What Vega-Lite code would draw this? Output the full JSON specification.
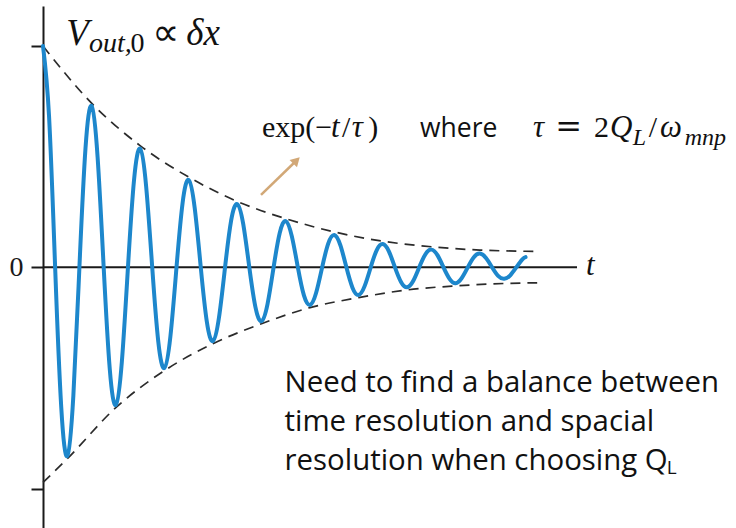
{
  "$schema": "https://vega.github.io/schema/vega-lite/v6.json",
  "width": 534,
  "height": 522,
  "autosize": "none",
  "padding": {"left": 43, "top": 6, "right": 159, "bottom": 0},
  "background": "white",
  "config": {"view": {"stroke": null}},
  "datasets": {
    "wave": [
      {"t": 0, "v": 1.0}, {"t": 0.125, "v": 0.681}, {"t": 0.25, "v": 0}, {"t": 0.375, "v": -0.629},
      {"t": 0.5, "v": -0.853}, {"t": 0.625, "v": -0.581}, {"t": 0.75, "v": 0}, {"t": 0.875, "v": 0.537},
      {"t": 1, "v": 0.729}, {"t": 1.125, "v": 0.497}, {"t": 1.25, "v": 0}, {"t": 1.375, "v": -0.459},
      {"t": 1.5, "v": -0.622}, {"t": 1.625, "v": -0.425}, {"t": 1.75, "v": 0}, {"t": 1.875, "v": 0.394},
      {"t": 2, "v": 0.536}, {"t": 2.125, "v": 0.365}, {"t": 2.25, "v": 0}, {"t": 2.375, "v": -0.336},
      {"t": 2.5, "v": -0.455}, {"t": 2.625, "v": -0.311}, {"t": 2.75, "v": 0}, {"t": 2.875, "v": 0.29},
      {"t": 3, "v": 0.395}, {"t": 3.125, "v": 0.268}, {"t": 3.25, "v": 0}, {"t": 3.375, "v": -0.246},
      {"t": 3.5, "v": -0.333}, {"t": 3.625, "v": -0.227}, {"t": 3.75, "v": 0}, {"t": 3.875, "v": 0.211},
      {"t": 4, "v": 0.286}, {"t": 4.125, "v": 0.195}, {"t": 4.25, "v": 0}, {"t": 4.375, "v": -0.179},
      {"t": 4.5, "v": -0.243}, {"t": 4.625, "v": -0.166}, {"t": 4.75, "v": 0}, {"t": 4.875, "v": 0.154},
      {"t": 5, "v": 0.209}, {"t": 5.125, "v": 0.141}, {"t": 5.25, "v": 0}, {"t": 5.375, "v": -0.127},
      {"t": 5.5, "v": -0.17}, {"t": 5.625, "v": -0.116}, {"t": 5.75, "v": 0}, {"t": 5.875, "v": 0.107},
      {"t": 6, "v": 0.146}, {"t": 6.125, "v": 0.1}, {"t": 6.25, "v": 0}, {"t": 6.375, "v": -0.092},
      {"t": 6.5, "v": -0.125}, {"t": 6.625, "v": -0.085}, {"t": 6.75, "v": 0}, {"t": 6.875, "v": 0.078},
      {"t": 7, "v": 0.105}, {"t": 7.125, "v": 0.072}, {"t": 7.25, "v": 0}, {"t": 7.375, "v": -0.066},
      {"t": 7.5, "v": -0.09}, {"t": 7.625, "v": -0.062}, {"t": 7.75, "v": 0}, {"t": 7.875, "v": 0.058},
      {"t": 8, "v": 0.08}, {"t": 8.125, "v": 0.055}, {"t": 8.25, "v": 0}, {"t": 8.375, "v": -0.052},
      {"t": 8.5, "v": -0.072}, {"t": 8.625, "v": -0.049}, {"t": 8.75, "v": 0}, {"t": 8.875, "v": 0.046},
      {"t": 9, "v": 0.062}, {"t": 9.125, "v": 0.042}, {"t": 9.25, "v": 0}, {"t": 9.375, "v": -0.039},
      {"t": 9.5, "v": -0.052}, {"t": 9.625, "v": -0.036}, {"t": 9.75, "v": 0}, {"t": 9.875, "v": 0.036},
      {"t": 9.94, "v": 0.046}
    ],
    "envelope": [
      {"side": "upper", "t": 0, "v": 1.0}, {"side": "upper", "t": 1, "v": 0.742},
      {"side": "upper", "t": 2, "v": 0.55}, {"side": "upper", "t": 3, "v": 0.408},
      {"side": "upper", "t": 4, "v": 0.298}, {"side": "upper", "t": 5, "v": 0.22},
      {"side": "upper", "t": 6, "v": 0.16}, {"side": "upper", "t": 7, "v": 0.118},
      {"side": "upper", "t": 8, "v": 0.093}, {"side": "upper", "t": 9, "v": 0.078},
      {"side": "upper", "t": 10.18, "v": 0.072},
      {"side": "lower", "t": 0, "v": -0.972}, {"side": "lower", "t": 0.5, "v": -0.865},
      {"side": "lower", "t": 1.5, "v": -0.634}, {"side": "lower", "t": 2.5, "v": -0.467},
      {"side": "lower", "t": 3.5, "v": -0.345}, {"side": "lower", "t": 4.5, "v": -0.255},
      {"side": "lower", "t": 5.5, "v": -0.182}, {"side": "lower", "t": 6.5, "v": -0.137},
      {"side": "lower", "t": 7.5, "v": -0.102}, {"side": "lower", "t": 8.5, "v": -0.084},
      {"side": "lower", "t": 9.5, "v": -0.073}, {"side": "lower", "t": 10.18, "v": -0.07}
    ],
    "timeAxis": [{"t": 0, "t2": 11, "v": 0}],
    "arrow": [{"t": 4.491, "v": 0.327, "t2": 5.232, "v2": 0.485}],
    "arrowHead": [{"t": 5.222, "v": 0.483}],
    "titleItalic": [
      {"t": 0.48, "v": 1.0045, "label": "V"},
      {"t": 2.95, "v": 1.0045, "label": "δx"}
    ],
    "titleSymbol": [{"t": 2.25, "v": 1.0045, "label": "∝"}],
    "titleSubItalic": [{"t": 0.948, "v": 0.973, "label": "out,"}],
    "titleSubUpright": [{"t": 1.80, "v": 0.973, "label": "0"}],
    "mathUpright": [
      {"t": 4.511, "v": 0.5888, "label": "exp(−"},
      {"t": 6.159, "v": 0.5888, "label": "/"},
      {"t": 6.70, "v": 0.5888, "label": ")"},
      {"t": 11.35, "v": 0.5888, "label": "2"},
      {"t": 12.48, "v": 0.5888, "label": "/"}
    ],
    "mathEquals": [{"t": 10.55, "v": 0.5888, "label": "="}],
    "mathItalic": [
      {"t": 5.933, "v": 0.5888, "label": "t"},
      {"t": 6.36, "v": 0.5888, "label": "τ"},
      {"t": 10.094, "v": 0.5888, "label": "τ"},
      {"t": 11.68, "v": 0.5888, "label": "Q"},
      {"t": 12.71, "v": 0.5888, "label": "ω"},
      {"t": 11.186, "v": -0.0348, "label": "t"}
    ],
    "mathSub": [
      {"t": 12.15, "v": 0.5526, "label": "L"},
      {"t": 13.22, "v": 0.5526, "label": "mnp"}
    ],
    "where": [{"t": 7.766, "v": 0.5888, "label": "where"}],
    "note": [{"t": 4.975, "v": -0.562, "label": "Need to find a balance between\ntime resolution and spacial\nresolution when choosing Q"}],
    "noteSub": [{"t": 12.85, "v": -0.934, "label": "L"}]
  },
  "encoding": {
    "x": {"field": "t", "type": "quantitative", "scale": {"domain": [0, 11], "nice": false, "zero": false}, "axis": null},
    "y": {
      "field": "v", "type": "quantitative",
      "scale": {"domain": [-1.178, 1.181], "nice": false, "zero": false},
      "axis": {
        "values": [-1, 0, 1], "title": null, "grid": false,
        "domain": true, "domainColor": "#1a1a1a", "domainWidth": 2,
        "ticks": true, "tickSize": 12, "tickWidth": 2, "tickColor": "#1a1a1a",
        "labelExpr": "datum.value === 0 ? '0' : ''",
        "labelFont": "Liberation Serif", "labelFontSize": 28, "labelColor": "#1a1a1a",
        "labelPadding": 8, "labelFlush": false, "labelOverlap": false
      }
    }
  },
  "layer": [
    {
      "data": {"name": "timeAxis"},
      "mark": {"type": "rule", "color": "#1a1a1a", "strokeWidth": 2},
      "encoding": {"x2": {"field": "t2"}}
    },
    {
      "data": {"name": "envelope"},
      "mark": {"type": "line", "interpolate": "monotone", "color": "#2b2b2b", "strokeWidth": 1.7, "strokeDash": [10, 7]},
      "encoding": {"detail": {"field": "side"}}
    },
    {
      "data": {"name": "wave"},
      "mark": {"type": "line", "interpolate": "natural", "color": "#1d87cc", "strokeWidth": 4, "strokeCap": "round", "strokeJoin": "round"},
      "encoding": {}
    },
    {
      "data": {"name": "arrow"},
      "mark": {"type": "rule", "color": "#d2a877", "strokeWidth": 2.5},
      "encoding": {"x2": {"field": "t2"}, "y2": {"field": "v2"}}
    },
    {
      "data": {"name": "arrowHead"},
      "mark": {"type": "point", "shape": "triangle-up", "angle": 45, "size": 110, "filled": true, "color": "#d2a877", "opacity": 1}
    },
    {
      "data": {"name": "titleItalic"},
      "mark": {"type": "text", "align": "left", "baseline": "alphabetic", "font": "Liberation Serif", "fontStyle": "italic", "fontSize": 37, "color": "#111"},
      "encoding": {"text": {"field": "label"}}
    },
    {
      "data": {"name": "titleSymbol"},
      "mark": {"type": "text", "align": "left", "baseline": "alphabetic", "font": "DejaVu Sans", "fontSize": 38, "color": "#111"},
      "encoding": {"text": {"field": "label"}}
    },
    {
      "data": {"name": "titleSubItalic"},
      "mark": {"type": "text", "align": "left", "baseline": "alphabetic", "font": "Liberation Serif", "fontStyle": "italic", "fontSize": 28, "color": "#111"},
      "encoding": {"text": {"field": "label"}}
    },
    {
      "data": {"name": "titleSubUpright"},
      "mark": {"type": "text", "align": "left", "baseline": "alphabetic", "font": "Liberation Serif", "fontSize": 28, "color": "#111"},
      "encoding": {"text": {"field": "label"}}
    },
    {
      "data": {"name": "mathUpright"},
      "mark": {"type": "text", "align": "left", "baseline": "alphabetic", "font": "Liberation Serif", "fontSize": 30, "color": "#111"},
      "encoding": {"text": {"field": "label"}}
    },
    {
      "data": {"name": "mathEquals"},
      "mark": {"type": "text", "align": "left", "baseline": "alphabetic", "font": "DejaVu Serif", "fontSize": 32, "color": "#111"},
      "encoding": {"text": {"field": "label"}}
    },
    {
      "data": {"name": "mathItalic"},
      "mark": {"type": "text", "align": "left", "baseline": "alphabetic", "font": "Liberation Serif", "fontStyle": "italic", "fontSize": 31, "color": "#111"},
      "encoding": {"text": {"field": "label"}}
    },
    {
      "data": {"name": "mathSub"},
      "mark": {"type": "text", "align": "left", "baseline": "alphabetic", "font": "Liberation Serif", "fontStyle": "italic", "fontSize": 24, "color": "#111"},
      "encoding": {"text": {"field": "label"}}
    },
    {
      "data": {"name": "where"},
      "mark": {"type": "text", "align": "left", "baseline": "alphabetic", "font": "Open Sans", "fontSize": 26.5, "color": "#111"},
      "encoding": {"text": {"field": "label"}}
    },
    {
      "data": {"name": "note"},
      "mark": {"type": "text", "align": "left", "baseline": "alphabetic", "font": "Open Sans", "fontSize": 29.4, "lineHeight": 39, "lineBreak": "\n", "color": "#111"},
      "encoding": {"text": {"field": "label"}}
    },
    {
      "data": {"name": "noteSub"},
      "mark": {"type": "text", "align": "left", "baseline": "alphabetic", "font": "Open Sans", "fontSize": 19, "color": "#111"},
      "encoding": {"text": {"field": "label"}}
    }
  ]
}
